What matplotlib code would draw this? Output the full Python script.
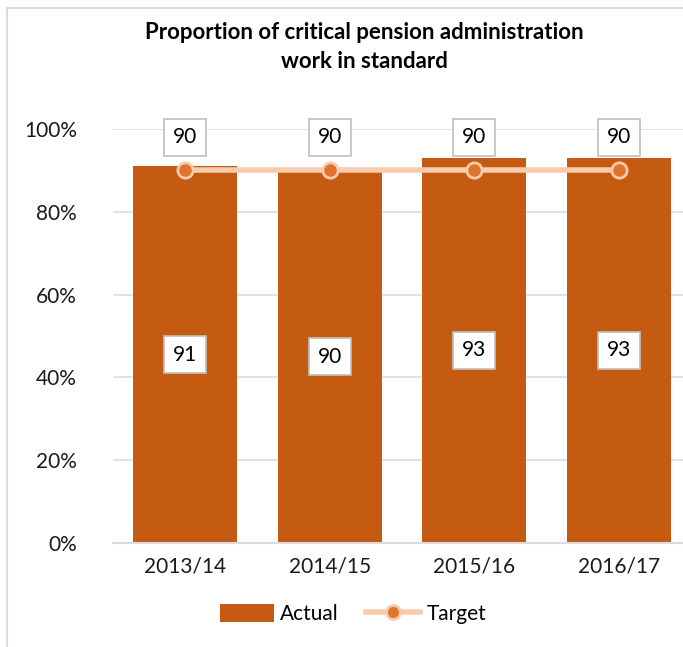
import matplotlib
matplotlib.use("Agg")
import matplotlib.pyplot as plt
from matplotlib.lines import Line2D
from matplotlib.patches import Patch, Rectangle

categories = ["2013/14", "2014/15", "2015/16", "2016/17"]
actual = [91, 90, 93, 93]
target = [90, 90, 90, 90]
yticks = [0, 20, 40, 60, 80, 100]
title = "Proportion of critical pension administration\nwork in standard"

plt.rcParams['font.family'] = ['Lato', 'DejaVu Sans']

W, H = 683, 647
fig = plt.figure(figsize=(W / 100, H / 100), dpi=100)

# chart border (cropped at right and bottom)
fig.patches.append(Rectangle((7 / W, -0.1), 1.2, (H - 8) / H + 0.1, transform=fig.transFigure,
                             fill=False, edgecolor="#D9DDE3", linewidth=1.5))

left = 113 / W
bottom = (H - 543) / H
width = 578 / W
height = (543 - 129) / H
ax = fig.add_axes([left, bottom, width, height])

x = list(range(len(categories)))
bar_color = "#C55A11"
ax.bar(x, actual, width=0.72, color=bar_color, zorder=2)
ax.plot(x, target, color="#F8CBAD", linewidth=4, marker="o", markersize=11,
        markerfacecolor="#E0732E", markeredgecolor="#F8CBAD", markeredgewidth=2, zorder=3)

box = dict(boxstyle="square,pad=0.42", facecolor="white", edgecolor="#BFBFBF", linewidth=1.2)
for xi, v in zip(x, actual):
    ax.text(xi, v / 2, f"{v}", ha="center", va="center", fontsize=15, bbox=box, zorder=4)
for xi, v in zip(x, target):
    ax.annotate(f"{v}", (xi, v), xytext=(0, 33), textcoords="offset pixels",
                ha="center", va="center", fontsize=15, bbox=box, zorder=4)

ax.set_xlim(-0.5, 3.5)
ax.set_ylim(0, 100)
ax.set_yticks(yticks)
ax.set_yticklabels([f"{t}%" for t in yticks])
ax.set_xticks(x)
ax.set_xticklabels(categories)
ax.tick_params(axis="both", length=0, labelsize=15, colors="#1a1a1a")
ax.tick_params(axis="y", pad=26)
ax.tick_params(axis="x", pad=10)
ax.grid(axis="y", color="#D9DDE3", linewidth=1.2, zorder=0)
ax.set_axisbelow(True)
for s in ["top", "right", "left"]:
    ax.spines[s].set_visible(False)
ax.spines["bottom"].set_color("#D9DDE3")
ax.spines["bottom"].set_linewidth(1.5)

fig.text(364 / W, 1 - 47 / H, title, ha="center", va="center", fontsize=16,
         fontweight="bold", linespacing=1.5)

handles = [Patch(facecolor=bar_color, edgecolor="none"),
           Line2D([0], [0], color="#F8CBAD", linewidth=4, marker="o", markersize=10,
                  markerfacecolor="#E0732E", markeredgecolor="#F8CBAD", markeredgewidth=2)]
fig.legend(handles, ["Actual", "Target"], loc="center", bbox_to_anchor=(353 / W, 1 - 614 / H),
           ncol=2, frameon=False, fontsize=15, handlelength=2.6, handleheight=1.0,
           columnspacing=1.3, handletextpad=0.3)

fig.savefig("out.png", dpi=100)
